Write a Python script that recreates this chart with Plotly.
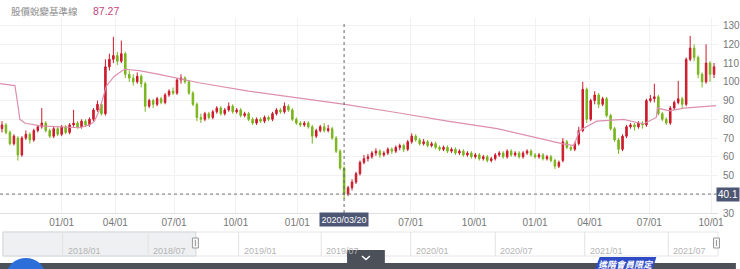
import plotly.graph_objects as go

# ---------------- data ----------------
# x position of each candle in trading days (each candle ~4 trading days)
DAYS = list(range(2, 720, 4))

OPEN = [75, 77, 73, 67, 70, 61, 70, 72, 69, 74, 76, 78, 74, 71, 75, 72, 76, 73, 77, 78,
        76, 79, 77, 80, 85, 88, 83, 108, 112, 114, 111, 115, 104, 102, 100, 103, 99, 87, 90, 88,
        91, 89, 93, 95, 94, 101, 102, 100, 94, 88, 81, 80, 83, 81, 84, 86, 83, 85, 87, 84,
        85, 82, 83, 80, 78, 80, 79, 81, 80, 83, 85, 84, 87, 85, 80, 78, 77, 78, 76, 71,
        74, 76, 74, 75, 70, 63, 54, 40.1, 43.5, 46.5, 51, 57, 59, 60, 62, 63, 61, 62, 64, 63,
        65, 66, 64, 68, 71, 69, 67, 68, 66, 67, 65, 64, 65, 63, 64, 62, 63, 61, 62, 60,
        61, 59, 60, 58, 59, 61, 62, 60, 63, 61, 62, 60, 62, 63, 61, 60, 61, 59, 60, 58,
        55, 58, 68, 65, 64, 67, 74, 96, 80, 90, 93, 88, 91, 82, 75, 69, 64, 71, 76, 77,
        76, 78, 77, 90, 91, 92, 83, 80, 78, 86, 89, 91, 88, 112, 118, 113, 104, 100, 110, 104]
HIGH = [79, 78, 74, 72, 71, 71, 74, 73, 75, 77, 86, 79, 75, 76, 76, 77, 77, 78, 85, 79,
        80, 80, 81, 86, 90, 89, 112, 115, 124, 116, 122, 116, 106, 104, 105, 104, 100, 91, 91, 92,
        92, 94, 96, 97, 102, 104, 103, 101, 95, 89, 83, 84, 84, 85, 87, 87, 86, 89, 88, 86,
        86, 84, 84, 81, 81, 81, 82, 82, 84, 86, 86, 89, 88, 86, 81, 79, 79, 79, 77, 75,
        77, 78, 77, 76, 71, 64, 55, 44.5, 48, 52, 58, 61, 61.5, 63, 64.5, 64, 63, 65, 65, 66,
        67, 67, 69, 72.5, 72, 70, 69.5, 69, 68, 68, 66, 66, 66, 65, 65, 64, 64, 63, 63, 62,
        62, 61, 61, 60, 62, 63, 63, 64, 64, 63, 63, 63, 64, 64, 62, 62, 62, 61, 61, 59,
        58, 70, 69, 66, 68, 76, 100, 97, 91, 95, 94, 92, 92, 83, 76, 70, 72, 77, 78, 78,
        79, 79, 91, 93, 99, 93, 84, 81, 87, 90, 100.5, 92, 113, 124.5, 120, 114, 105, 120, 111, 110]
LOW = [73, 72, 66, 66, 58, 60, 69, 67, 68, 73, 75, 73, 70, 70, 71, 71, 72, 72, 76, 75,
       75, 76, 76, 79, 84, 82, 82, 106, 110, 109, 110, 102, 100, 98, 99, 97, 84, 86, 86, 87,
       88, 88, 92, 93, 93, 99, 99, 93, 87, 79, 78, 79, 80, 80, 83, 82, 82, 84, 83, 83,
       81, 81, 79, 77, 77, 78, 78, 79, 79, 82, 83, 83, 84, 79, 77, 76, 76, 75, 67, 70,
       73, 73, 73, 69, 62, 53, 37.5, 39, 42, 45.5, 50, 56, 57.5, 59, 60.5, 59.5, 60, 61, 61.5, 62,
       63.5, 62.5, 63, 67, 68, 66, 66, 65, 65, 64, 63, 63, 62, 62, 61, 61, 60, 60, 59, 59,
       58, 58, 57, 57, 58, 60, 59, 59, 60, 60, 59, 59, 61, 60, 59, 59, 58, 58, 57, 53.5,
       54, 57, 64, 63, 63, 66, 73, 78, 79, 88, 86, 87, 81, 74, 68, 61.5, 63, 70, 75, 74,
       75, 75, 76, 89, 89, 82, 79, 77, 77, 85, 88, 86, 87, 111, 111, 102, 97, 99, 100, 102]
CLOSE = [77, 73, 67, 71, 61, 70, 72, 69, 74, 76, 78, 74, 71, 75, 72, 76, 73, 77, 78, 76,
         79, 77, 80, 85, 88, 83, 108, 112, 114, 111, 115, 104, 102, 100, 103, 99, 87, 90, 88, 91,
         89, 93, 95, 94, 101, 102, 100, 94, 88, 81, 80, 83, 81, 84, 86, 83, 85, 87, 84, 85,
         82, 83, 80, 78, 80, 79, 81, 80, 83, 85, 84, 87, 85, 80, 78, 77, 78, 76, 71, 74,
         76, 74, 75, 70, 63, 54, 40.1, 43.5, 46.5, 51, 57, 59, 60, 62, 63, 61, 62, 64, 63, 65,
         66, 64, 68, 71, 69, 67, 68, 66, 67, 65, 64, 65, 63, 64, 62, 63, 61, 62, 60, 61,
         59, 60, 58, 59, 61, 62, 60, 63, 61, 62, 60, 62, 63, 61, 60, 61, 59, 60, 58, 55,
         57, 68, 65, 64, 67, 74, 96, 80, 90, 93, 88, 91, 82, 75, 69, 64, 71, 76, 77, 76,
         78, 77, 90, 91, 92, 83, 80, 78, 86, 89, 91, 88, 112, 118, 113, 104, 100, 110, 104, 108]

# baseline line (股價蛻變基準線)
BASE_DAY = [0, 15, 17, 20, 25, 40, 80, 90, 95, 100, 107, 115, 125, 140, 160, 200, 250, 300,
            347, 400, 450, 500, 540, 565, 577, 583, 600, 627, 647, 660, 661, 673, 688, 720]
BASE_VAL = [99, 98, 91, 80, 78, 76.5, 75.5, 77, 79, 85, 97.8, 103, 106.7, 106, 104, 99.5, 95, 91.5,
            88, 83.5, 79, 75, 70, 67, 66, 74, 79, 80, 77.5, 81, 86, 84.5, 86, 87.27]

TICK_DAYS = [62, 116, 175, 237, 299, 413, 477, 538, 593, 653, 715]
TICK_TEXT = ["01/01", "04/01", "07/01", "10/01", "01/01", "07/01", "10/01", "01/01", "04/01", "07/01", "10/01"]
Y_TICKS = [30, 40, 50, 60, 70, 80, 90, 100, 110, 120, 130]

NAV_POS = [63, 149, 240, 323, 413, 498, 588, 672]
NAV_TEXT = ["2018/01", "2018/07", "2019/01", "2019/07", "2020/01", "2020/07", "2021/01", "2021/07"]

TITLE = "股價蛻變基準線"
TITLE_VAL = "87.27"
CROSS_DAY = 346
CROSS_DATE = "2020/03/20"
CROSS_VAL = 40.1

# ---------------- style ----------------
RED = "#cc1a2b"
GREEN = "#7ab51d"
PINK = "#dc8fae"
FONT = "Liberation Sans, Arial, Noto Sans CJK TC, sans-serif"

W, H = 740, 269
ML, MR, MT, MB = 0, 18, 18, 56
PW = W - ML - MR
PH = H - MT - MB


def px(x):
    return (x - ML) / PW


def py(y):
    return (H - MB - y) / PH


fig = go.Figure()
fig.add_trace(go.Candlestick(
    x=DAYS, open=OPEN, high=HIGH, low=LOW, close=CLOSE,
    increasing=dict(line=dict(color=RED, width=1), fillcolor=RED),
    decreasing=dict(line=dict(color=GREEN, width=1), fillcolor=GREEN),
    whiskerwidth=0, showlegend=False, hoverinfo="skip"))
fig.add_trace(go.Scatter(x=BASE_DAY, y=BASE_VAL, mode="lines",
                         line=dict(color=PINK, width=1.2), showlegend=False, hoverinfo="skip"))

shapes = []
# crosshair
shapes.append(dict(type="line", xref="x", yref="paper", x0=CROSS_DAY, x1=CROSS_DAY, y0=0, y1=py(22),
                   line=dict(color="#666", width=1, dash="dot")))
shapes.append(dict(type="line", xref="paper", yref="y", x0=0, x1=1, y0=CROSS_VAL, y1=CROSS_VAL,
                   line=dict(color="#777", width=1, dash="dot")))
# navigator frame
shapes.append(dict(type="rect", xref="paper", yref="paper", x0=px(3), x1=px(722), y0=py(256), y1=py(232),
                   line=dict(color="#e6e6e6", width=1), fillcolor="#ffffff", layer="below"))
shapes.append(dict(type="rect", xref="paper", yref="paper", x0=px(3), x1=px(197), y0=py(256), y1=py(232),
                   line=dict(color="#d2d6da", width=1), fillcolor="#eef0f2", layer="below"))
for p in NAV_POS:
    shapes.append(dict(type="line", xref="paper", yref="paper", x0=px(p), x1=px(p), y0=py(256), y1=py(232),
                       line=dict(color="#e2e2e2", width=1)))
for hx in (196.5, 720.5):
    shapes.append(dict(type="rect", xref="paper", yref="paper", x0=px(hx - 3), x1=px(hx + 3), y0=py(248),
                       y1=py(238), line=dict(color="#9a9a9a", width=1), fillcolor="#f6f6f6"))
    shapes.append(dict(type="line", xref="paper", yref="paper", x0=px(hx), x1=px(hx), y0=py(246), y1=py(240),
                       line=dict(color="#9a9a9a", width=1)))
# bottom dark bar
shapes.append(dict(type="rect", xref="paper", yref="paper", x0=px(0), x1=px(740), y0=py(270), y1=py(263),
                   line=dict(width=0), fillcolor="#4b5059"))
shapes.append(dict(type="rect", xref="paper", yref="paper", x0=px(349), x1=px(387), y0=py(270), y1=py(250),
                   line=dict(width=0), fillcolor="#4b5059"))
shapes.append(dict(type="path", xref="paper", yref="paper",
                   path=f"M {px(364)} {py(256)} L {px(368)} {py(259.5)} L {px(372)} {py(256)}",
                   line=dict(color="#ffffff", width=1.6)))
# blue button
shapes.append(dict(type="circle", xref="paper", yref="paper", x0=px(7), x1=px(45), y0=py(290), y1=py(258),
                   line=dict(width=0), fillcolor="#2d6fd8"))
# member tag
shapes.append(dict(type="path", xref="paper", yref="paper",
                   path=(f"M {px(603)} {py(257)} L {px(660)} {py(257)} L {px(656)} {py(270)} "
                         f"L {px(598)} {py(270)} Z"),
                   line=dict(width=0), fillcolor="#2f4bc6"))

annotations = [
    dict(xref="paper", yref="paper", x=px(9), y=py(11), xanchor="left", yanchor="middle", showarrow=False,
         text=TITLE, font=dict(size=9.5, color="#8c8c8c", family="Noto Sans CJK TC")),
    dict(xref="paper", yref="paper", x=px(92), y=py(11), xanchor="left", yanchor="middle", showarrow=False,
         text=TITLE_VAL, font=dict(size=10.5, color="#c2457e", family=FONT)),
    dict(xref="x", yref="paper", x=CROSS_DAY, y=py(219.5), xanchor="center", yanchor="middle", showarrow=False,
         text=CROSS_DATE, font=dict(size=9, color="#ffffff", family=FONT), bgcolor="#4d5672",
         borderpad=1.5),
    dict(xref="paper", yref="y", x=px(720), y=CROSS_VAL, xanchor="left", yanchor="middle", showarrow=False,
         text=str(CROSS_VAL), font=dict(size=10, color="#ffffff", family=FONT), bgcolor="#4d5672",
         borderpad=1),
    dict(xref="paper", yref="paper", x=px(629), y=py(264), xanchor="center", yanchor="middle", showarrow=False,
         text="<i><b>進階會員限定</b></i>", font=dict(size=9, color="#ffffff", family="Noto Sans CJK TC")),
]
for p, t in zip(NAV_POS, NAV_TEXT):
    annotations.append(dict(xref="paper", yref="paper", x=px(p + 3), y=py(251), xanchor="left",
                            yanchor="middle", showarrow=False, text=t,
                            font=dict(size=9, color="#b4b4b4", family=FONT)))

fig.update_layout(
    width=W, height=H, margin=dict(l=ML, r=MR, t=MT, b=MB),
    paper_bgcolor="#ffffff", plot_bgcolor="#ffffff",
    font=dict(family=FONT, size=10, color="#666"),
    showlegend=False, hovermode=False, boxgap=0.45,
    shapes=shapes, annotations=annotations,
    xaxis=dict(range=[0, PW], tickvals=TICK_DAYS, ticktext=TICK_TEXT, showgrid=True, gridcolor="#f1f1f1",
               zeroline=False, showline=True, linecolor="#dedede", ticks="", rangeslider=dict(visible=False),
               tickfont=dict(size=10, color="#777"), fixedrange=True),
    yaxis=dict(range=[30, 30 + PH / 1.874], tickvals=Y_TICKS, side="right", showgrid=True, gridcolor="#f1f1f1",
               zeroline=False, showline=False, ticks="", tickfont=dict(size=10, color="#777"),
               ticklabelstandoff=4, fixedrange=True),
)

fig.write_html("out.html")
